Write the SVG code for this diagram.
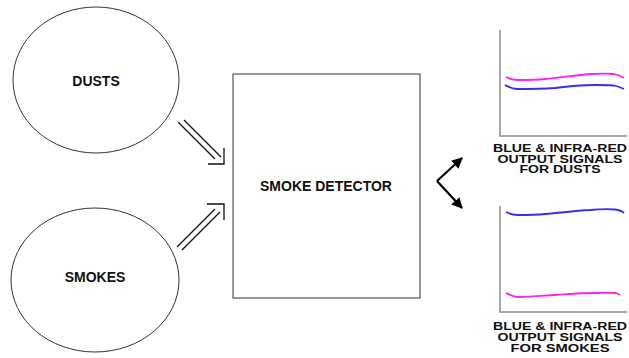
<svg xmlns="http://www.w3.org/2000/svg" width="629" height="358" viewBox="0 0 629 358">
<defs>
<style>
.node{fill:#fff;stroke:#333;stroke-width:1}
.lbl{font-family:"Liberation Sans",Arial,sans-serif;font-weight:bold;font-size:14px;fill:#111;text-anchor:middle}
.cap{font-family:"Liberation Sans",Arial,sans-serif;font-weight:bold;font-size:11px;fill:#111;text-anchor:middle}
.shaft{stroke:#111;stroke-width:1.3;fill:none}
.axis{stroke:#8a8a8a;stroke-width:1.5;fill:none}
.mag{stroke:#ff22ee;stroke-width:1.8;fill:none}
.blu{stroke:#3a2cf0;stroke-width:1.8;fill:none}
.out{stroke:#000;stroke-width:2.2;fill:none}
</style>
<marker id="ah" viewBox="0 0 10 10" refX="9" refY="5" markerWidth="5" markerHeight="5" orient="auto" markerUnits="strokeWidth">
<path d="M0,0 L10,5 L0,10 z" fill="#000"/>
</marker>
</defs>
<rect width="629" height="358" fill="#fff"/>
<g id="dusts">
<ellipse class="node" cx="96" cy="80" rx="83" ry="73"/>
<text class="lbl" x="96" y="86">DUSTS</text>
</g>
<g id="smokes">
<ellipse class="node" cx="95" cy="280" rx="84" ry="72"/>
<text class="lbl" x="95" y="282">SMOKES</text>
</g>
<g id="detector">
<rect class="node" x="233" y="74" width="187" height="224"/>
<text class="lbl" x="326" y="191">SMOKE DETECTOR</text>
</g>
<g id="graph-dusts">
<path class="axis" d="M500,30 V136 H627"/>
<path class="mag" d="M506,77 C510,79 513,80 518,80 C528,80 536,80 545,79 C560,78 575,75 592,74 C600,73.5 610,73.5 614,74 C618,75 621,76 624,78"/>
<path class="blu" d="M505,85 C509,87 512,89 517,89 C530,89 540,89 555,88 C570,86 580,85 595,85 C605,85 612,85 616,86 C620,87 622,88 624,89"/>
<text class="cap" x="560" y="152" textLength="134" lengthAdjust="spacingAndGlyphs">BLUE &amp; INFRA-RED</text>
<text class="cap" x="560" y="162.5" textLength="125" lengthAdjust="spacingAndGlyphs">OUTPUT SIGNALS</text>
<text class="cap" x="560" y="173" textLength="81" lengthAdjust="spacingAndGlyphs">FOR DUSTS</text>
</g>
<g id="graph-smokes">
<path class="axis" d="M500,206 V312 H627"/>
<path class="blu" d="M506,212 C510,214 513,215 518,215 C528,215 536,215 545,214 C560,213 572,211 590,210 C600,209 610,209 615,209.5 C619,210 622,211 624,213"/>
<path class="mag" d="M506,293 C510,295 513,297 518,297 C530,297 540,296 555,295 C570,294 580,293 595,293 C605,293 612,292.5 616,293 C618,294 619,294.5 620,295"/>
<text class="cap" x="560" y="330" textLength="134" lengthAdjust="spacingAndGlyphs">BLUE &amp; INFRA-RED</text>
<text class="cap" x="560" y="341" textLength="125" lengthAdjust="spacingAndGlyphs">OUTPUT SIGNALS</text>
<text class="cap" x="560" y="351.5" textLength="99" lengthAdjust="spacingAndGlyphs">FOR SMOKES</text>
</g>
<g id="connectors">
<g id="dusts-to-detector">
<path class="shaft" d="M184,120 L221,157 M178,122 L215,159 M208,164 H224 V148"/>
</g>
<g id="smokes-to-detector">
<path class="shaft" d="M177,247 L215,209 M182,250 L220,212 M207,204 H224 V220"/>
</g>
<g id="detector-to-outputs">
<path class="out" d="M437,181 L462,158" marker-end="url(#ah)"/>
<path class="out" d="M437,181 L462,208" marker-end="url(#ah)"/>
</g>
</g>
</svg>
